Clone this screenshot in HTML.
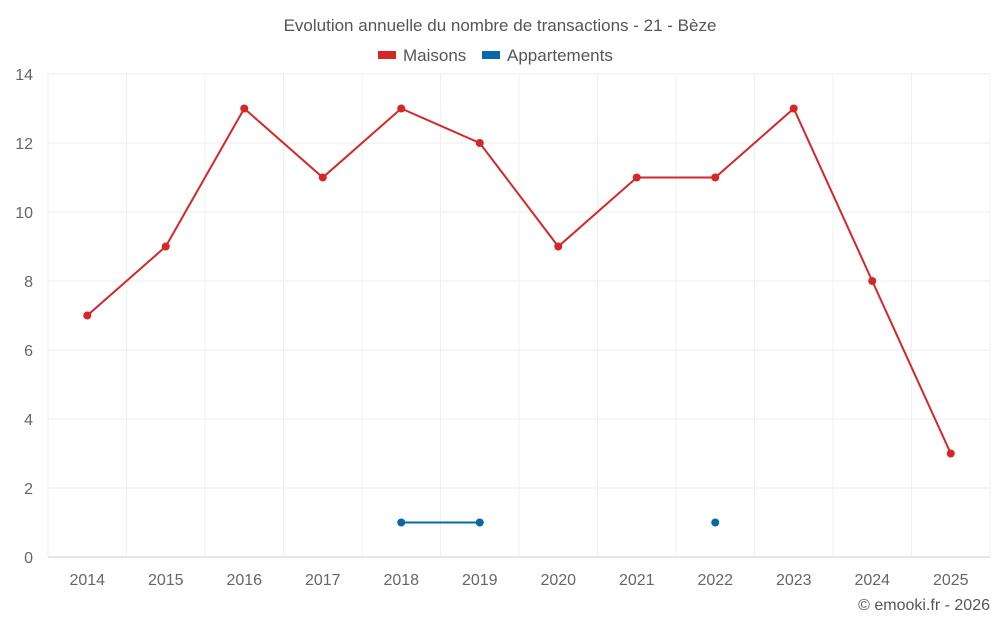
<!DOCTYPE html>
<html><head><meta charset="utf-8"><style>
html,body{margin:0;padding:0;background:#fff;width:1000px;height:625px;overflow:hidden}
svg{font-family:"Liberation Sans",sans-serif}
</style></head><body>
<svg id="chart" width="1000" height="625">
<text x="500" y="31" text-anchor="middle" font-size="17" fill="#555">Evolution annuelle du nombre de transactions - 21 - Bèze</text>
<g><rect x="378" y="51" width="18" height="8" fill="#d62728"/><text x="403" y="61" font-size="17" fill="#555">Maisons</text></g>
<g><rect x="482" y="51" width="18" height="8" fill="#0868a8"/><text x="507" y="61" font-size="17" fill="#555">Appartements</text></g>
<g id="grid"></g><g id="axes"></g><g id="series"></g>
<text x="990" y="610" text-anchor="end" font-size="16" fill="#555">© emooki.fr - 2026</text>
</svg>
<script>
const categories=["2014","2015","2016","2017","2018","2019","2020","2021","2022","2023","2024","2025"];
const maisons=[7,9,13,11,13,12,9,11,11,13,8,3];
const appartements=[null,null,null,null,1,1,null,null,1,null,null,null];
const yTicks=[0,2,4,6,8,10,12,14];
const L=48,R=990,T=74,B=557,yMax=14;
const bw=(R-L)/categories.length;
const x=i=>L+bw*(i+0.5);
const y=v=>B-(v/yMax)*(B-T);
const NS="http://www.w3.org/2000/svg";
function mk(tag,attrs,parent){const e=document.createElementNS(NS,tag);for(const k in attrs)e.setAttribute(k,attrs[k]);parent.appendChild(e);return e;}
const grid=document.getElementById('grid'),axes=document.getElementById('axes'),series=document.getElementById('series');
yTicks.forEach(t=>{
  const gl=mk('line',{x1:L,x2:R,y1:y(t),y2:y(t),stroke:t===0?'#ccc':'#ececec','stroke-width':1},grid);
  
  
  const tl=mk('text',{x:33,y:y(t)+6,'text-anchor':'end','font-size':16,fill:'#666'},axes);
  tl.textContent=t;
  
  
});
for(let i=0;i<=categories.length;i++){
  const vl=mk('line',{x1:L+bw*i,x2:L+bw*i,y1:T,y2:B,stroke:'#f0f0f0','stroke-width':1},grid);
  
  
}
categories.forEach((c,i)=>{
  const tl=mk('text',{x:x(i),y:585,'text-anchor':'middle','font-size':16,fill:'#666'},axes);
  tl.textContent=c;
  
  
});
function draw(data,color,name){
  let segs=[],cur=[];
  data.forEach((v,i)=>{if(v==null){if(cur.length)segs.push(cur);cur=[];}else cur.push([x(i),y(v)]);});
  if(cur.length)segs.push(cur);
  segs.forEach(s=>{if(s.length>1){
    const p=mk('polyline',{points:s.map(a=>a.join(',')).join(' '),fill:'none',stroke:color,'stroke-width':2},series);
    
    
  }});
  data.forEach((v,i)=>{if(v!=null){
    const c=mk('circle',{cx:x(i),cy:y(v),r:4,fill:color},series);
    
    
  }});
}
draw(maisons,'#d62728','maisons');
draw(appartements,'#0868a8','appartements');
</script>
</body></html>
